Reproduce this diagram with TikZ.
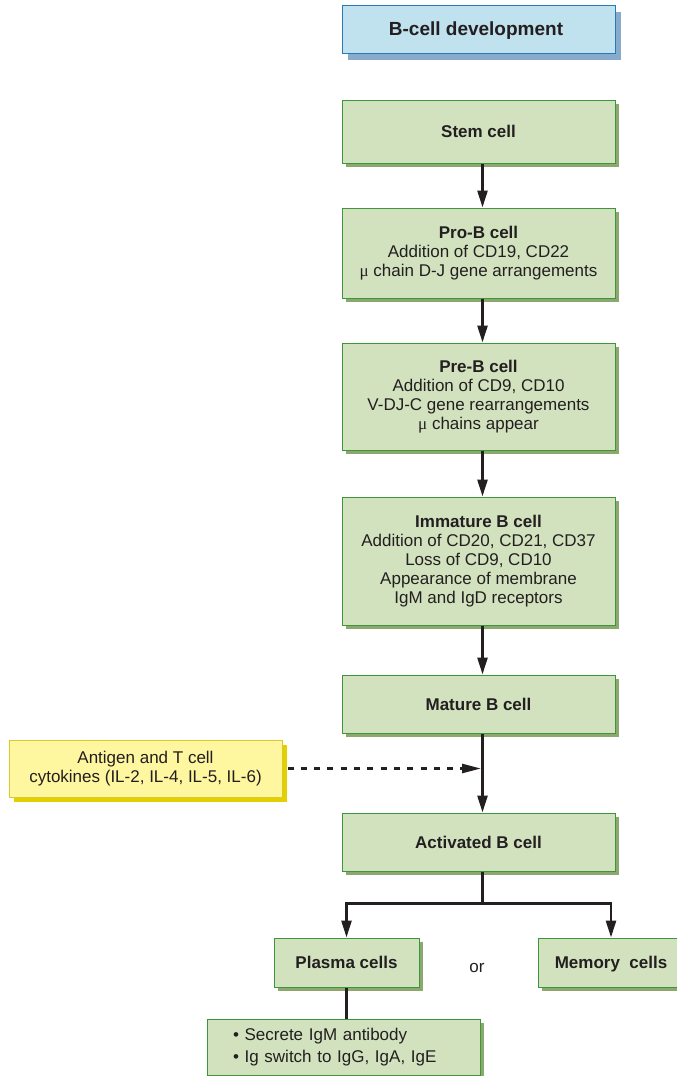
\documentclass[tikz,border=0pt]{standalone}
\usepackage{fontspec}
\setmainfont{Liberation Sans}
\newfontfamily\mufont{Liberation Serif}
\usetikzlibrary{arrows.meta,shadows}

\definecolor{greenfill}{RGB}{210,226,190}
\definecolor{greenline}{RGB}{60,150,60}
\definecolor{greenshade}{RGB}{140,168,110}
\definecolor{bluefill}{RGB}{192,225,238}
\definecolor{blueline}{RGB}{40,120,180}
\definecolor{blueshade}{RGB}{136,170,204}
\definecolor{yellowfill}{RGB}{255,246,160}
\definecolor{yellowline}{RGB}{220,200,40}
\definecolor{yellowshade}{RGB}{226,208,0}
\definecolor{inkcol}{RGB}{35,31,32}

\newcommand{\mucell}{{\mufont μ}}

\begin{document}
\begin{tikzpicture}[x=1pt, y=-1pt,
    every node/.style={text=inkcol, font=\fontsize{17}{19}\selectfont},
    cellbox/.style={draw=greenline, fill=greenfill, line width=1pt, align=center,
        minimum width=273pt, inner sep=0pt,
        drop shadow={shadow xshift=4pt, shadow yshift=-4pt, fill=greenshade, opacity=1}},
    titlebox/.style={draw=blueline, fill=bluefill, line width=1pt,
        minimum width=273pt, minimum height=48pt, inner sep=0pt,
        text height=13.6pt, text depth=0pt,
        font=\fontsize{19}{21}\selectfont\bfseries,
        drop shadow={shadow xshift=6pt, shadow yshift=-7pt, fill=blueshade, opacity=1}},
    signalbox/.style={draw=yellowline, fill=yellowfill, line width=1pt, align=center,
        minimum width=273pt, minimum height=57pt,
        drop shadow={shadow xshift=5pt, shadow yshift=-5pt, fill=yellowshade, opacity=1}},
    oneline/.style={text height=12.2pt, text depth=0pt},
    arr/.style={line width=2.6pt, draw=inkcol, -{Triangle[length=17pt,width=10pt]}},
    dasharr/.style={line width=2.6pt, draw=inkcol, dash pattern=on 6pt off 7.3pt,
        -{Triangle[length=19pt,width=9pt]}}]
    \useasboundingbox (0,0) rectangle (677,1076);

    % Heading
    \node[titlebox] (title) at (478.5, 29) {B-cell development\hspace*{5pt}};

    % Main column of stages
    \node[cellbox, oneline, minimum height=63pt] (stem) at (478.5, 131.5) {\textbf{Stem cell}};
    \node[cellbox, minimum height=90pt] (prob) at (478.5, 253)
        {\textbf{Pro-B cell}\\Addition of CD19, CD22\\\mucell{} chain D-J gene arrangements};
    \node[cellbox, minimum height=107pt] (preb) at (478.5, 396.5)
        {\textbf{Pre-B cell}\\Addition of CD9, CD10\\V-DJ-C gene rearrangements\\\mucell{} chains appear};
    \node[cellbox, minimum height=128pt] (immature) at (478.5, 561)
        {\textbf{Immature B cell}\\Addition of CD20, CD21, CD37\\Loss of CD9, CD10\\Appearance of membrane\\IgM and IgD receptors};
    \node[cellbox, oneline, minimum height=58pt] (mature) at (478.5, 704) {\textbf{Mature B cell}};
    \node[cellbox, oneline, minimum height=58pt] (activated) at (478.5, 842) {\textbf{Activated B cell}};

    % Side input
    \node[signalbox] (antigen) at (145.5, 768.5)
        {Antigen and T cell\\cytokines (IL-2, IL-4, IL-5, IL-6)};

    % Bottom row
    \node[cellbox, oneline, minimum width=145pt, minimum height=49pt] (plasma) at (346.5, 962.5) {\textbf{Plasma cells}};
    \node[oneline] (or) at (477, 966) {or};
    \node[cellbox, oneline, minimum width=146pt, minimum height=49pt] (memory) at (611, 962.5) {\textbf{Memory\ \ cells}};
    \node[cellbox, align=left, minimum height=56pt, text width=221pt, inner xsep=26pt,
        font=\fontsize{17}{22}\selectfont] (secrete) at (343.5, 1047)
        {• Secrete IgM antibody\\• Ig switch to IgG, IgA, IgE};

    % Edges between nodes
    \draw[arr] ([xshift=4pt]stem.south) -- ([xshift=4pt]prob.north);
    \draw[arr] ([xshift=4pt]prob.south) -- ([xshift=4pt]preb.north);
    \draw[arr] ([xshift=4pt]preb.south) -- ([xshift=4pt]immature.north);
    \draw[arr] ([xshift=4pt]immature.south) -- ([xshift=4pt]mature.north);
    \draw[arr] ([xshift=4pt]mature.south) -- ([xshift=4pt]activated.north);

    \coordinate (meet) at ([xshift=4pt]mature.south |- antigen.east);
    \draw[dasharr] ([xshift=5pt]antigen.east) -- ([xshift=-1.5pt]meet);

    \coordinate (split) at ([xshift=4pt,yshift=-32pt]activated.south);
    \draw[line width=2.6pt, draw=inkcol] ([xshift=4pt]activated.south) -- (split);
    \draw[arr] (split) -| (plasma.north);
    \draw[arr] (split) -| (memory.north);

    \draw[line width=2.6pt, draw=inkcol] (plasma.south) -- (plasma.south |- secrete.north);
\end{tikzpicture}
\end{document}
